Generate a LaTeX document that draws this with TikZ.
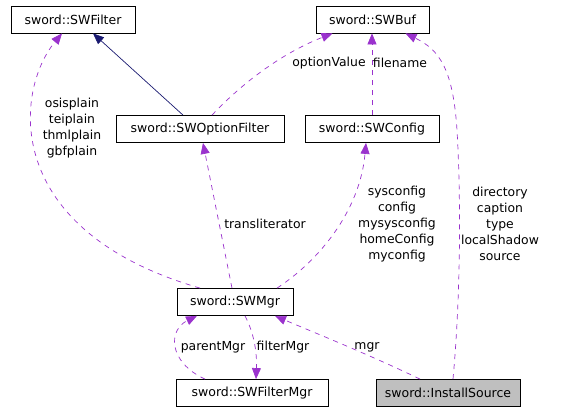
\documentclass[tikz,border=0pt]{standalone}
\usepackage{fontspec}
\setmainfont{DejaVu Sans}
\usetikzlibrary{arrows.meta}
\definecolor{edgepurple}{HTML}{9A32CD}
\definecolor{edgenavy}{HTML}{191970}
\definecolor{boxgray}{HTML}{BFBFBF}
\begin{document}
\begin{tikzpicture}[x=1pt,y=-1pt,
  cls/.style={draw=black,line width=0.8pt,fill=white,inner sep=0pt,minimum height=27pt,font=\fontsize{12.5}{14}\selectfont},
  lbl/.style={inner sep=0pt,align=center,font=\fontsize{12.4}{16}\selectfont},
  usage/.style={draw=edgepurple,line width=0.7pt,dash pattern=on 5pt off 5pt,-{Triangle[length=11pt,width=9pt,fill=edgepurple]}},
  inherit/.style={draw=edgenavy,line width=0.7pt,-{Triangle[length=11pt,width=9pt,fill=edgenavy]}}]
\useasboundingbox (0,0) rectangle (565,411);
\node[cls,minimum width=124pt] (SWFilter) at (73,19.5) {sword::SWFilter};
\node[cls,minimum width=113pt] (SWBuf) at (372.5,19.5) {sword::SWBuf};
\node[cls,minimum width=168pt] (SWOptionFilter) at (200,129) {sword::SWOptionFilter};
\node[cls,minimum width=134pt] (SWConfig) at (372,129) {sword::SWConfig};
\node[cls,minimum width=116pt] (SWMgr) at (235,302) {sword::SWMgr};
\node[cls,minimum width=152pt] (SWFilterMgr) at (252,393) {sword::SWFilterMgr};
\node[cls,minimum width=144pt,fill=boxgray] (InstallSource) at (448,393) {sword::InstallSource};

\draw[inherit] ([xshift=-17pt]SWOptionFilter.north) -- ([xshift=20pt]SWFilter.south);
\draw[usage] ([xshift=-35pt]SWMgr.north) .. controls (0,230) and (15,90) .. ([xshift=-11pt]SWFilter.south);
\draw[usage] ([xshift=12pt]SWOptionFilter.north) .. controls (250,75) and (290,50) .. ([xshift=-40pt]SWBuf.south);
\draw[usage] (SWConfig.north) -- (SWConfig.north |- SWBuf.south);
\draw[usage] ([xshift=-3pt]SWMgr.north) -- ([xshift=3pt]SWOptionFilter.south);
\draw[usage] ([xshift=42pt]SWMgr.north) .. controls (320,260) and (360,210) .. ([xshift=-6pt]SWConfig.south);
\draw[usage] ([xshift=5pt]InstallSource.north) .. controls (462,280) and (460,180) .. (457,130) .. controls (453,70) and (440,50) .. ([xshift=33pt]SWBuf.south);
\draw[usage] ([xshift=10pt]SWMgr.south) .. controls (255,335) and (257,355) .. ([xshift=4pt]SWFilterMgr.north);
\draw[usage] ([xshift=-47pt]SWFilterMgr.north) .. controls (168,362) and (168,330) .. ([xshift=-38pt]SWMgr.south);
\draw[usage] ([xshift=-28pt]InstallSource.north) .. controls (370,355) and (320,335) .. ([xshift=40pt]SWMgr.south);

\node[lbl] (lfilter) at (72,128) {osisplain\\teiplain\\thmlplain\\gbfplain};
\node[lbl] (lopt) at (329,63) {optionValue};
\node[lbl] (lfile) at (400,63) {filename};
\node[lbl] (ltrans) at (265,224) {transliterator};
\node[lbl] (lconf) at (397,224) {sysconfig\\config\\mysysconfig\\homeConfig\\myconfig};
\node[lbl] (ldir) at (500,224) {directory\\caption\\type\\localShadow\\source};
\node[lbl] (lparent) at (213,347) {parentMgr};
\node[lbl] (lfmgr) at (283,347) {filterMgr};
\node[lbl] (lmgr) at (367,347) {mgr};
\end{tikzpicture}
\end{document}
